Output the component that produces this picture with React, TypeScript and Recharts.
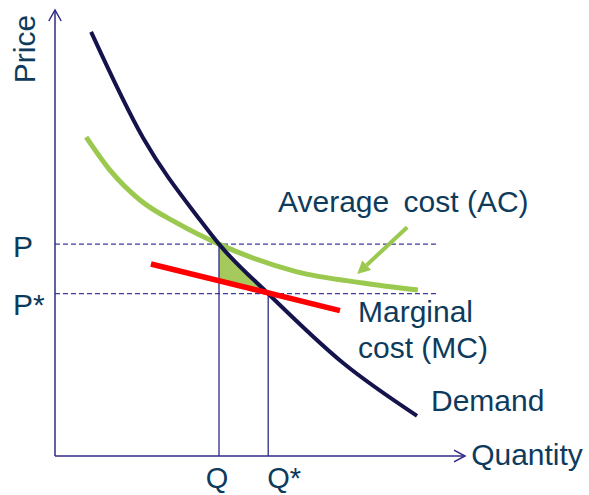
import React from 'react';
import { ComposedChart, Line, Area, XAxis, YAxis, ReferenceLine, ReferenceDot } from 'recharts';

// ---- data ----
const demandQ = [8.8, 21.5, 35.4, 40, 52, 70.2, 88.3];
const demandP = [95.1, 71.3, 52.9, 47.5, 36.4, 20.9, 9.0];
const acQ = [7.6, 13.4, 20.7, 29.8, 40, 59, 75.1, 88.5];
const acP = [71.5, 64.1, 57.4, 52.2, 47.5, 41.3, 38.8, 37.2];
const mcQ = [23.4, 69.5];
const mcP = [43.05, 32.6];

const Q = 40;
const Q_STAR = 52;
const P = 47.5;
const P_STAR = 36.4;

const priceTicks = [P_STAR, P];
const priceTickLabels = ['P*', 'P'];
const qtyTicks = [Q, Q_STAR];
const qtyTickLabels = ['Q', 'Q*'];

// ---- derived tables ----
const demandData = demandQ.map((q, i) => ({ q, p: demandP[i] }));
const acData = acQ.map((q, i) => ({ q, p: acP[i] }));
const mcData = mcQ.map((q, i) => ({ q, p: mcP[i] }));
const mcAtQ = mcP[0] + ((Q - mcQ[0]) * (mcP[1] - mcP[0])) / (mcQ[1] - mcQ[0]);
const triangleData = [
  { q: Q, band: [mcAtQ, P] },
  { q: Q_STAR, band: [P_STAR, P_STAR] },
];

// ---- styles ----
const FONT = '"Liberation Sans", Arial, Helvetica, sans-serif';
const TEXT = '#0e3b5c';
const AXIS = '#2f2b84';
const DASH = '#3d3a99';
const DEMAND = '#15134c';
const AC = '#9bc94f';
const MC = '#ff0000';
const FILL = '#a5c95d';
const FS = 30;

function arrowShape(color: string, width: number, filled: boolean, len: number, half: number) {
  return (props: any) => {
    const { x1, y1, x2, y2 } = props;
    const ang = Math.atan2(y2 - y1, x2 - x1);
    const bx = x2 - len * Math.cos(ang);
    const by = y2 - len * Math.sin(ang);
    const px = -Math.sin(ang) * half;
    const py = Math.cos(ang) * half;
    if (filled) {
      return (
        <g>
          <line x1={x1} y1={y1} x2={bx} y2={by} stroke={color} strokeWidth={width} />
          <polygon points={`${x2},${y2} ${bx + px},${by + py} ${bx - px},${by - py}`} fill={color} />
        </g>
      );
    }
    return (
      <g>
        <line x1={x1} y1={y1} x2={x2} y2={y2} stroke={color} strokeWidth={width} />
        <polyline
          points={`${bx + px},${by + py} ${x2},${y2} ${bx - px},${by - py}`}
          fill="none"
          stroke={color}
          strokeWidth={width}
        />
      </g>
    );
  };
}

function textShape(content: React.ReactNode, rotate = false) {
  return (props: any) => {
    const { cx, cy } = props;
    return (
      <text
        x={cx}
        y={cy}
        fill={TEXT}
        fontFamily={FONT}
        fontSize={FS}
        textAnchor="start"
        transform={rotate ? `rotate(-90 ${cx} ${cy})` : undefined}
      >
        {content}
      </text>
    );
  };
}

const QtyTick = (props: any) => {
  const { x, y, payload } = props;
  const i = qtyTicks.indexOf(payload.value);
  const label = qtyTickLabels[i];
  const isStar = label.endsWith('*');
  return (
    <text
      x={isStar ? x - 1 : x - 2}
      y={y + 32}
      fill={TEXT}
      fontFamily={FONT}
      fontSize={29}
      textAnchor={isStar ? 'start' : 'middle'}
    >
      {label}
    </text>
  );
};

const PriceTick = (props: any) => {
  const { x, y, payload } = props;
  const i = priceTicks.indexOf(payload.value);
  const label = priceTickLabels[i];
  const isStar = label.endsWith('*');
  return (
    <text x={x - 42} y={y + (isStar ? 21 : 13)} fill={TEXT} fontFamily={FONT} fontSize={FS} textAnchor="start">
      {label}
    </text>
  );
};

export default function App() {
  return (
    <div style={{ position: 'absolute', left: 0, top: 0, width: 589, height: 495, background: '#fff' }}>
      <ComposedChart width={589} height={495} margin={{ top: 10, right: 124, bottom: 0, left: 0 }}>
        <XAxis
          type="number"
          dataKey="q"
          domain={[0, 100]}
          allowDataOverflow
          ticks={qtyTicks}
          interval={0}
          axisLine={false}
          tickLine={false}
          tickSize={0}
          tickMargin={0}
          height={39}
          tick={<QtyTick />}
        />
        <YAxis
          type="number"
          domain={[0, 100]}
          allowDataOverflow
          ticks={priceTicks}
          interval={0}
          axisLine={false}
          tickLine={false}
          tickSize={0}
          tickMargin={0}
          width={55}
          tick={<PriceTick />}
        />

        {/* guide lines */}
        <ReferenceLine
          segment={[{ x: 0, y: P }, { x: 93.2, y: P }]}
          stroke={DASH}
          strokeWidth={1.4}
          strokeDasharray="5 3"
          ifOverflow="visible"
        />
        <ReferenceLine
          segment={[{ x: 0, y: P_STAR }, { x: 93.2, y: P_STAR }]}
          stroke={DASH}
          strokeWidth={1.4}
          strokeDasharray="5 3"
          ifOverflow="visible"
        />
        <ReferenceLine segment={[{ x: Q, y: 0 }, { x: Q, y: P }]} stroke={AXIS} strokeWidth={1.3} ifOverflow="visible" />
        <ReferenceLine
          segment={[{ x: Q_STAR, y: 0 }, { x: Q_STAR, y: P_STAR }]}
          stroke={AXIS}
          strokeWidth={1.3}
          ifOverflow="visible"
        />

        {/* shaded triangle */}
        <Area
          data={triangleData}
          dataKey="band"
          type="linear"
          fill={FILL}
          fillOpacity={1}
          stroke="none"
          dot={false}
          activeDot={false}
          isAnimationActive={false}
        />

        {/* curves */}
        <Line
          data={acData}
          dataKey="p"
          type="monotone"
          stroke={AC}
          strokeWidth={5}
          dot={false}
          activeDot={false}
          isAnimationActive={false}
        />
        <Line
          data={demandData}
          dataKey="p"
          type="monotone"
          stroke={DEMAND}
          strokeWidth={4}
          dot={false}
          activeDot={false}
          isAnimationActive={false}
        />
        <Line
          data={mcData}
          dataKey="p"
          type="linear"
          stroke={MC}
          strokeWidth={5.5}
          dot={false}
          activeDot={false}
          isAnimationActive={false}
        />

        {/* axes with arrows */}
        <ReferenceLine
          segment={[{ x: 0, y: 0 }, { x: 0, y: 100 }]}
          ifOverflow="visible"
          shape={arrowShape(AXIS, 1.5, false, 11, 6.2)}
        />
        <ReferenceLine
          segment={[{ x: 0, y: 0 }, { x: 100, y: 0 }]}
          ifOverflow="visible"
          shape={arrowShape(AXIS, 1.5, false, 11, 5.8)}
        />

        {/* pointer arrow to AC */}
        <ReferenceLine
          segment={[{ x: 85.9, y: 51.3 }, { x: 73.7, y: 40.8 }]}
          ifOverflow="visible"
          shape={arrowShape(AC, 4, true, 13, 6.5)}
        />

        {/* text labels */}
        <ReferenceDot
          x={54.4}
          y={54.7}
          r={0}
          ifOverflow="visible"
          shape={textShape(
            <>
              <tspan>Average</tspan>
              <tspan dx={6}> cost (AC)</tspan>
            </>
          )}
        />
        <ReferenceDot x={73.9} y={30.0} r={0} ifOverflow="visible" shape={textShape('Marginal')} />
        <ReferenceDot x={73.9} y={22.0} r={0} ifOverflow="visible" shape={textShape('cost (MC)')} />
        <ReferenceDot x={91.7} y={10.1} r={0} ifOverflow="visible" shape={textShape('Demand')} />
        <ReferenceDot x={101.5} y={-2.0} r={0} ifOverflow="visible" shape={textShape('Quantity')} />
        <ReferenceDot x={-4.9} y={83.6} r={0} ifOverflow="visible" shape={textShape('Price', true)} />
      </ComposedChart>
    </div>
  );
}
